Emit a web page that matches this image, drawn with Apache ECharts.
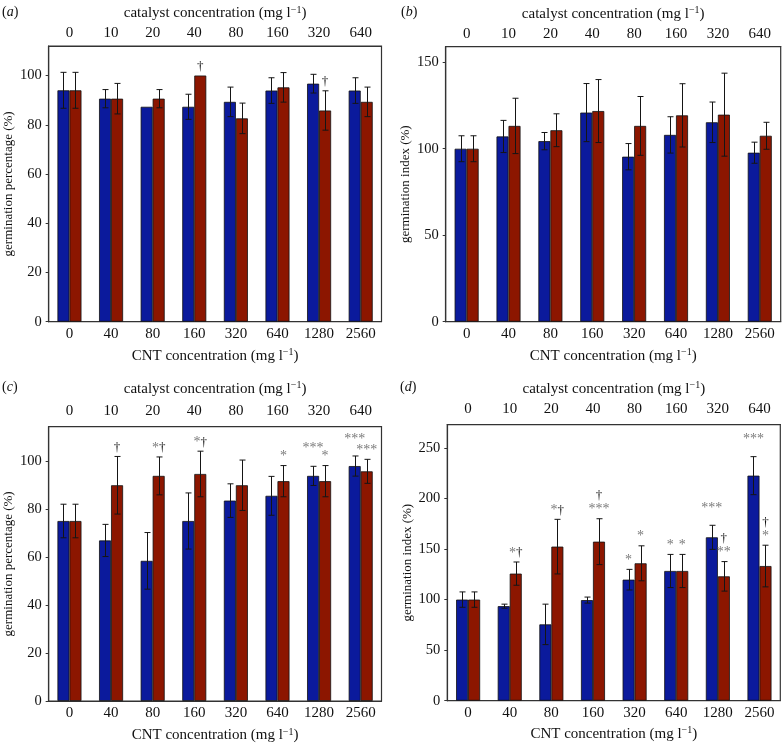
<!DOCTYPE html>
<html>
<head>
<meta charset="utf-8">
<script src="https://cdn.jsdelivr.net/npm/echarts@6/dist/echarts.min.js"></script>
<style>html,body{margin:0;padding:0;background:#fff}#c{width:783px;height:745px}</style>
</head>
<body>
<div id="c"></div>
<script>
// ---- data ----
const cntLabels = ['0','40','80','160','320','640','1280','2560'];
const catLabels = ['0','10','20','40','80','160','320','640'];

const aBlue    = [94, 90.6, 87.3, 87.3, 89.3, 93.9, 96.7, 93.9];
const aBlueErr = [7.3, 3.7, 0, 5.1, 6.0, 5.2, 3.8, 5.2];
const aRed     = [94, 90.6, 90.6, 100, 82.6, 95.2, 85.8, 89.3];
const aRedErr  = [7.3, 6.2, 3.7, 0, 6.2, 6.0, 8.0, 6.0];
const aNotes   = [[3,1,'†'],[6,1,'†']];
const aTicks   = [0,20,40,60,80,100];

const bBlue    = [100, 107.1, 104.4, 120.9, 95.4, 108, 115.3, 97.7];
const bBlueErr = [7.5, 9.3, 5, 16.8, 7.6, 10.5, 11.7, 6.1];
const bRed     = [100, 113.2, 110.7, 121.8, 113.2, 119.3, 119.7, 107.5];
const bRedErr  = [7.5, 16, 9.5, 18.2, 17, 18.3, 24, 7.8];
const bNotes   = [];
const bTicks   = [0,50,100,150];

const cBlue    = [75, 66.9, 58.4, 75, 83.5, 85.5, 93.8, 97.9];
const cBlueErr = [7, 6.7, 11.8, 11.7, 7, 8.1, 4, 4.2];
const cRed     = [75, 89.9, 93.8, 94.6, 89.9, 91.6, 91.6, 95.7];
const cRedErr  = [7, 12, 7.9, 9.5, 10.5, 6.5, 6.5, 5];
const cNotes   = [[1,1,'†'],[2,1,'*†'],[3,1,'*†'],[5,1,'*'],[6,0,'***'],[6,1,'*'],[7,0,'***'],[7,1,'***']];
const cTicks   = [0,20,40,60,80,100];

const dBlue    = [100, 93.5, 75.5, 99.5, 119.7, 128.3, 161.6, 222.6];
const dBlueErr = [7.6, 2, 20, 3, 10.2, 16.4, 11.9, 18.8];
const dRed     = [100, 125.7, 152.4, 157.3, 135.9, 128.3, 123, 133.2];
const dRedErr  = [7.6, 11.5, 27, 22.7, 17.3, 16.4, 14.6, 20.6];
const dNotes   = [[1,1,'*†'],[2,1,'*†'],[3,1,'†\n***'],[4,0,'*'],[4,1,'*'],[5,0,'*'],[5,1,'*'],[6,0,'***'],[6,1,'†\n**'],[7,0,'***'],[7,1,'†\n*']];
const dTicks   = [0,50,100,150,200,250];

// ---- styling / layout ----
const FONT = "'Liberation Serif','DejaVu Serif',serif";
const BLUE = '#0b1a9c', RED = '#8c1600';
const BAR_W = 12;
const topName = 'catalyst concentration (mg l{sup|−1})';
const botName = 'CNT concentration (mg l{sup|−1})';
const supRich = {sup:{fontSize:10, lineHeight:10, verticalAlign:'top', fontFamily:FONT, color:'#111'}};

const panels = [
  {lab:'a', blue:aBlue, be:aBlueErr, red:aRed, re:aRedErr, notes:aNotes, ticks:aTicks, max:112, yname:'germination percentage (%)',
   grid:{left:48.5, top:46, width:333, height:275.7}, topM:5, topGap:24, botGap:26, yGap:29, labPos:[2,13]},
  {lab:'b', blue:bBlue, be:bBlueErr, red:bRed, re:bRedErr, notes:bNotes, ticks:bTicks, max:159, yname:'germination index (%)',
   grid:{left:445.7, top:46.7, width:335, height:275}, topM:5, topGap:24, botGap:26, yGap:32, labPos:[401,13]},
  {lab:'c', blue:cBlue, be:cBlueErr, red:cRed, re:cRedErr, notes:cNotes, ticks:cTicks, max:114.3, yname:'germination percentage (%)',
   grid:{left:48.5, top:426.7, width:333, height:275}, topM:8, topGap:29, botGap:26, yGap:29, labPos:[2,388]},
  {lab:'d', blue:dBlue, be:dBlueErr, red:dRed, re:dRedErr, notes:dNotes, ticks:dTicks, max:273, yname:'germination index (%)',
   grid:{left:447.3, top:424.7, width:333, height:276}, topM:8, topGap:27, botGap:25, yGap:32, labPos:[400,388]}
];

const grids = [], xAxes = [], yAxes = [], series = [], graphics = [];

function toRich(s){
  return s.split('\n').map(line => line.replace(/(\*+)/g,'{s|$1}').replace(/†/g,'{d|†}')).join('\n');
}

panels.forEach((p, i) => {
  grids.push(Object.assign({show:true, borderColor:'#333', borderWidth:1.2, backgroundColor:'transparent', containLabel:false}, p.grid));
  xAxes.push({
    type:'category', gridIndex:i, position:'bottom', data:cntLabels,
    axisLine:{show:true, lineStyle:{color:'#333', width:1.2}}, axisTick:{show:false},
    axisLabel:{color:'#111', fontFamily:FONT, fontSize:15, margin:5},
    name:botName, nameLocation:'middle', nameGap:p.botGap,
    nameTextStyle:{color:'#111', fontFamily:FONT, fontSize:15, lineHeight:17, rich:supRich}
  });
  xAxes.push({
    type:'category', gridIndex:i, position:'top', data:catLabels,
    axisLine:{show:true, lineStyle:{color:'#333', width:1.2}}, axisTick:{show:false},
    axisLabel:{color:'#111', fontFamily:FONT, fontSize:15, margin:p.topM},
    name:topName, nameLocation:'middle', nameGap:p.topGap,
    nameTextStyle:{color:'#111', fontFamily:FONT, fontSize:15, lineHeight:17, rich:supRich}
  });
  yAxes.push({
    type:'value', gridIndex:i, min:0, max:p.max,
    axisLine:{show:true, lineStyle:{color:'#333', width:1.2}},
    axisTick:{show:true, length:3, lineStyle:{color:'#333'}, customValues:p.ticks},
    axisLabel:{color:'#111', fontFamily:FONT, fontSize:14.5, margin:7, customValues:p.ticks},
    splitLine:{show:false},
    name:p.yname, nameLocation:'middle', nameGap:p.yGap,
    nameTextStyle:{color:'#111', fontFamily:FONT, fontSize:13, lineHeight:15}
  });
  const xi = i*2;
  series.push({type:'bar', xAxisIndex:xi, yAxisIndex:i, data:p.blue, barWidth:BAR_W, barGap:'0%',
    itemStyle:{color:BLUE, borderColor:'#111', borderWidth:0.8}, silent:true, animation:false});
  series.push({type:'bar', xAxisIndex:xi, yAxisIndex:i, data:p.red, barWidth:BAR_W, barGap:'0%',
    itemStyle:{color:RED, borderColor:'#111', borderWidth:0.8}, silent:true, animation:false});

  const errData = [];
  p.blue.forEach((v,k)=>errData.push([k, v, p.be[k], 0]));
  p.red.forEach((v,k)=>errData.push([k, v, p.re[k], 1]));
  series.push({type:'custom', xAxisIndex:xi, yAxisIndex:i, data:errData, silent:true, animation:false, z:5,
    encode:{x:0, y:1},
    renderItem:(params, api) => {
      const c = api.value(0), v = api.value(1), e = api.value(2), side = api.value(3);
      if (!e) return null;
      const off = (side ? 1 : -1) * BAR_W/2;
      const t = api.coord([c, v+e]), b = api.coord([c, v-e]);
      const x = Math.round(t[0] + off) + 0.5;
      const st = {stroke:'#151515', lineWidth:1};
      return {type:'group', children:[
        {type:'line', shape:{x1:x, y1:t[1], x2:x, y2:b[1]}, style:st},
        {type:'line', shape:{x1:x-3, y1:t[1], x2:x+3, y2:t[1]}, style:st},
        {type:'line', shape:{x1:x-3, y1:b[1], x2:x+3, y2:b[1]}, style:st}
      ]};
    }
  });

  if (p.notes.length) {
    const noteData = p.notes.map(n => {
      const k = n[0], side = n[1];
      const top = side ? p.red[k] + p.re[k] : p.blue[k] + p.be[k];
      return [k, top, side];
    });
    series.push({type:'custom', xAxisIndex:xi, yAxisIndex:i, data:noteData, silent:true, animation:false, z:6,
      encode:{x:0, y:1},
      renderItem:(params, api) => {
        const idx = params.dataIndex;
        const n = p.notes[idx];
        const k = n[0], side = n[1];
        const pt = api.coord([k, api.value(1)]);
        let y = pt[1] - 2;
        if (side === 0) {
          // avoid collision with a red-bar note in the same group
          const other = p.notes.find(m => m[0] === k && m[1] === 1);
          if (other) {
            const wb = n[2].split('\n').pop().length * 7, wr = other[2].split('\n').pop().length * 7;
            if ((wb + wr) / 2 > BAR_W) {
              const oy = api.coord([k, p.red[k] + p.re[k]])[1] - 2;
              y = Math.min(y, oy) - 8;
            }
          }
        }
        const x = pt[0] + (side ? 1 : -1) * BAR_W/2;
        return {type:'text', x:x, y:y, style:{
          text: toRich(n[2]), align:'center', verticalAlign:'bottom',
          fontFamily:FONT, fontSize:14, lineHeight:14,
          rich:{ s:{fill:'#7a7a7a', color:'#7a7a7a', fontFamily:FONT, fontSize:14, lineHeight:14},
                 d:{fill:'#111', color:'#111', fontFamily:FONT, fontSize:13, lineHeight:14} }
        }};
      }
    });
  }

  graphics.push({type:'text', left:p.labPos[0], top:p.labPos[1]-8, style:{
    text:'({i|' + p.lab + '})', fontFamily:FONT, fontSize:14, fill:'#111',
    rich:{i:{fontStyle:'italic', fontFamily:FONT, fontSize:14, fill:'#111'}}
  }});
});

const chart = echarts.init(document.getElementById('c'), null, {renderer:'canvas'});
chart.setOption({
  animation:false,
  grid:grids, xAxis:xAxes, yAxis:yAxes, series:series, graphic:graphics
});
</script>
</body>
</html>
